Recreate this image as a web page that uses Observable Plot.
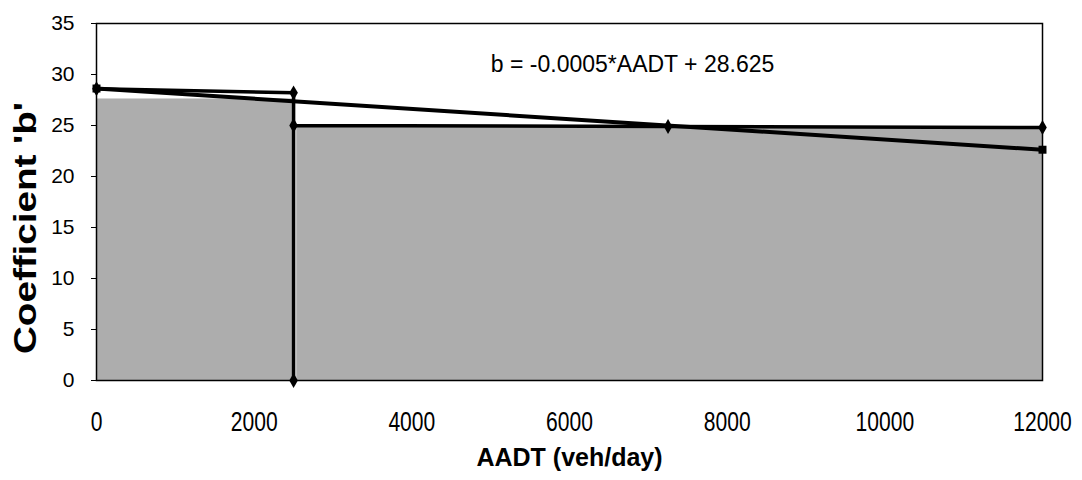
<!DOCTYPE html>
<html><head><meta charset="utf-8">
<script src="https://cdn.jsdelivr.net/npm/d3@7"></script>
<script src="https://cdn.jsdelivr.net/npm/@observablehq/plot@0.6"></script>
<style>body{margin:0;background:#fff}</style>
</head><body><div id="chart"></div>
<script>
const xTicks = [0, 2000, 4000, 6000, 8000, 10000, 12000];
const yTicks = [0, 5, 10, 15, 20, 25, 30, 35];
// observed coefficient 'b' series (step)
const dataX = [0, 2500, 2500, 2500, 7250, 12000];
const dataY = [28.6, 28.2, 0, 25.0, 24.9, 24.8];
// regression line
const regX = [0, 12000];
const regY = [28.625, 22.625];
// shaded blocks
const blockStart = [0, 2540];
const blockEnd = [2500, 12000];
const blockTop = [27.6, 24.8];
const equation = "b = -0.0005*AADT + 28.625";
const eqAt = [6800, 31];

const dataPts = dataX.map((x, i) => ({x, y: dataY[i]}));
const regPts = regX.map((x, i) => ({x, y: regY[i]}));
const blocks = blockStart.map((x1, i) => ({x1, x2: blockEnd[i], y: blockTop[i]}));

const font = "'Liberation Sans', Arial, sans-serif";
const fmt = d3.format("d");
const plot = Plot.plot({
  width: 1082, height: 480,
  marginLeft: 96, marginRight: 40, marginTop: 23, marginBottom: 100,
  style: {fontFamily: font, background: "#fff", color: "#000"},
  x: {domain: [0, 12000], label: null, axis: null},
  y: {domain: [0, 35], label: null},
  marks: [
    Plot.rect(blocks, {x1: "x1", x2: "x2", y1: 0, y2: "y", fill: "#adadad"}),
    Plot.line(regPts, {x: "x", y: "y", stroke: "#000", strokeWidth: 4}),
    Plot.line(dataPts, {x: "x", y: "y", stroke: "#000", strokeWidth: 3.5}),
    Plot.dot(dataPts, {x: "x", y: "y", symbol: "diamond", r: 4.5, fill: "#000"}),
    Plot.dot(regPts, {x: "x", y: "y", symbol: "square", r: 4.5, fill: "#000"}),
    Plot.frame({stroke: "#000", strokeWidth: 1.5}),
    Plot.axisY({ticks: yTicks, tickSize: 5, tickFormat: () => "", label: null}),
    Plot.text(yTicks, {y: d => d, frameAnchor: "left", dx: -22, textAnchor: "end", text: d => fmt(d), fontSize: 21}),
    Plot.text(xTicks, {x: d => d, frameAnchor: "bottom", lineAnchor: "middle", dy: 42, text: d => fmt(d), fontSize: 27}),
    Plot.text([equation], {x: () => eqAt[0], y: () => eqAt[1], text: d => d, fontSize: 23, textAnchor: "middle"}),
    Plot.text(["AADT (veh/day)"], {frameAnchor: "bottom", dy: 85, text: d => d, fontSize: 25, fontWeight: "bold"}),
    Plot.text(["Coefficient 'b'"], {frameAnchor: "left", dx: -71, dy: 152, rotate: -90, textAnchor: "start", text: d => d, fontSize: 32, fontWeight: "bold"})
  ]
});
document.getElementById("chart").append(plot);
const root = d3.select(plot);
root.selectAll('g[font-size="27"] text').each(function() {
  const w = this.getComputedTextLength();
  this.setAttribute("textLength", w * 0.78);
  this.setAttribute("lengthAdjust", "spacingAndGlyphs");
});
root.selectAll('[aria-label="text"] text').each(function() {
  if (this.textContent === "Coefficient 'b'") {
    this.setAttribute("textLength", 252);
    this.setAttribute("lengthAdjust", "spacingAndGlyphs");
  }
});
</script></body></html>
